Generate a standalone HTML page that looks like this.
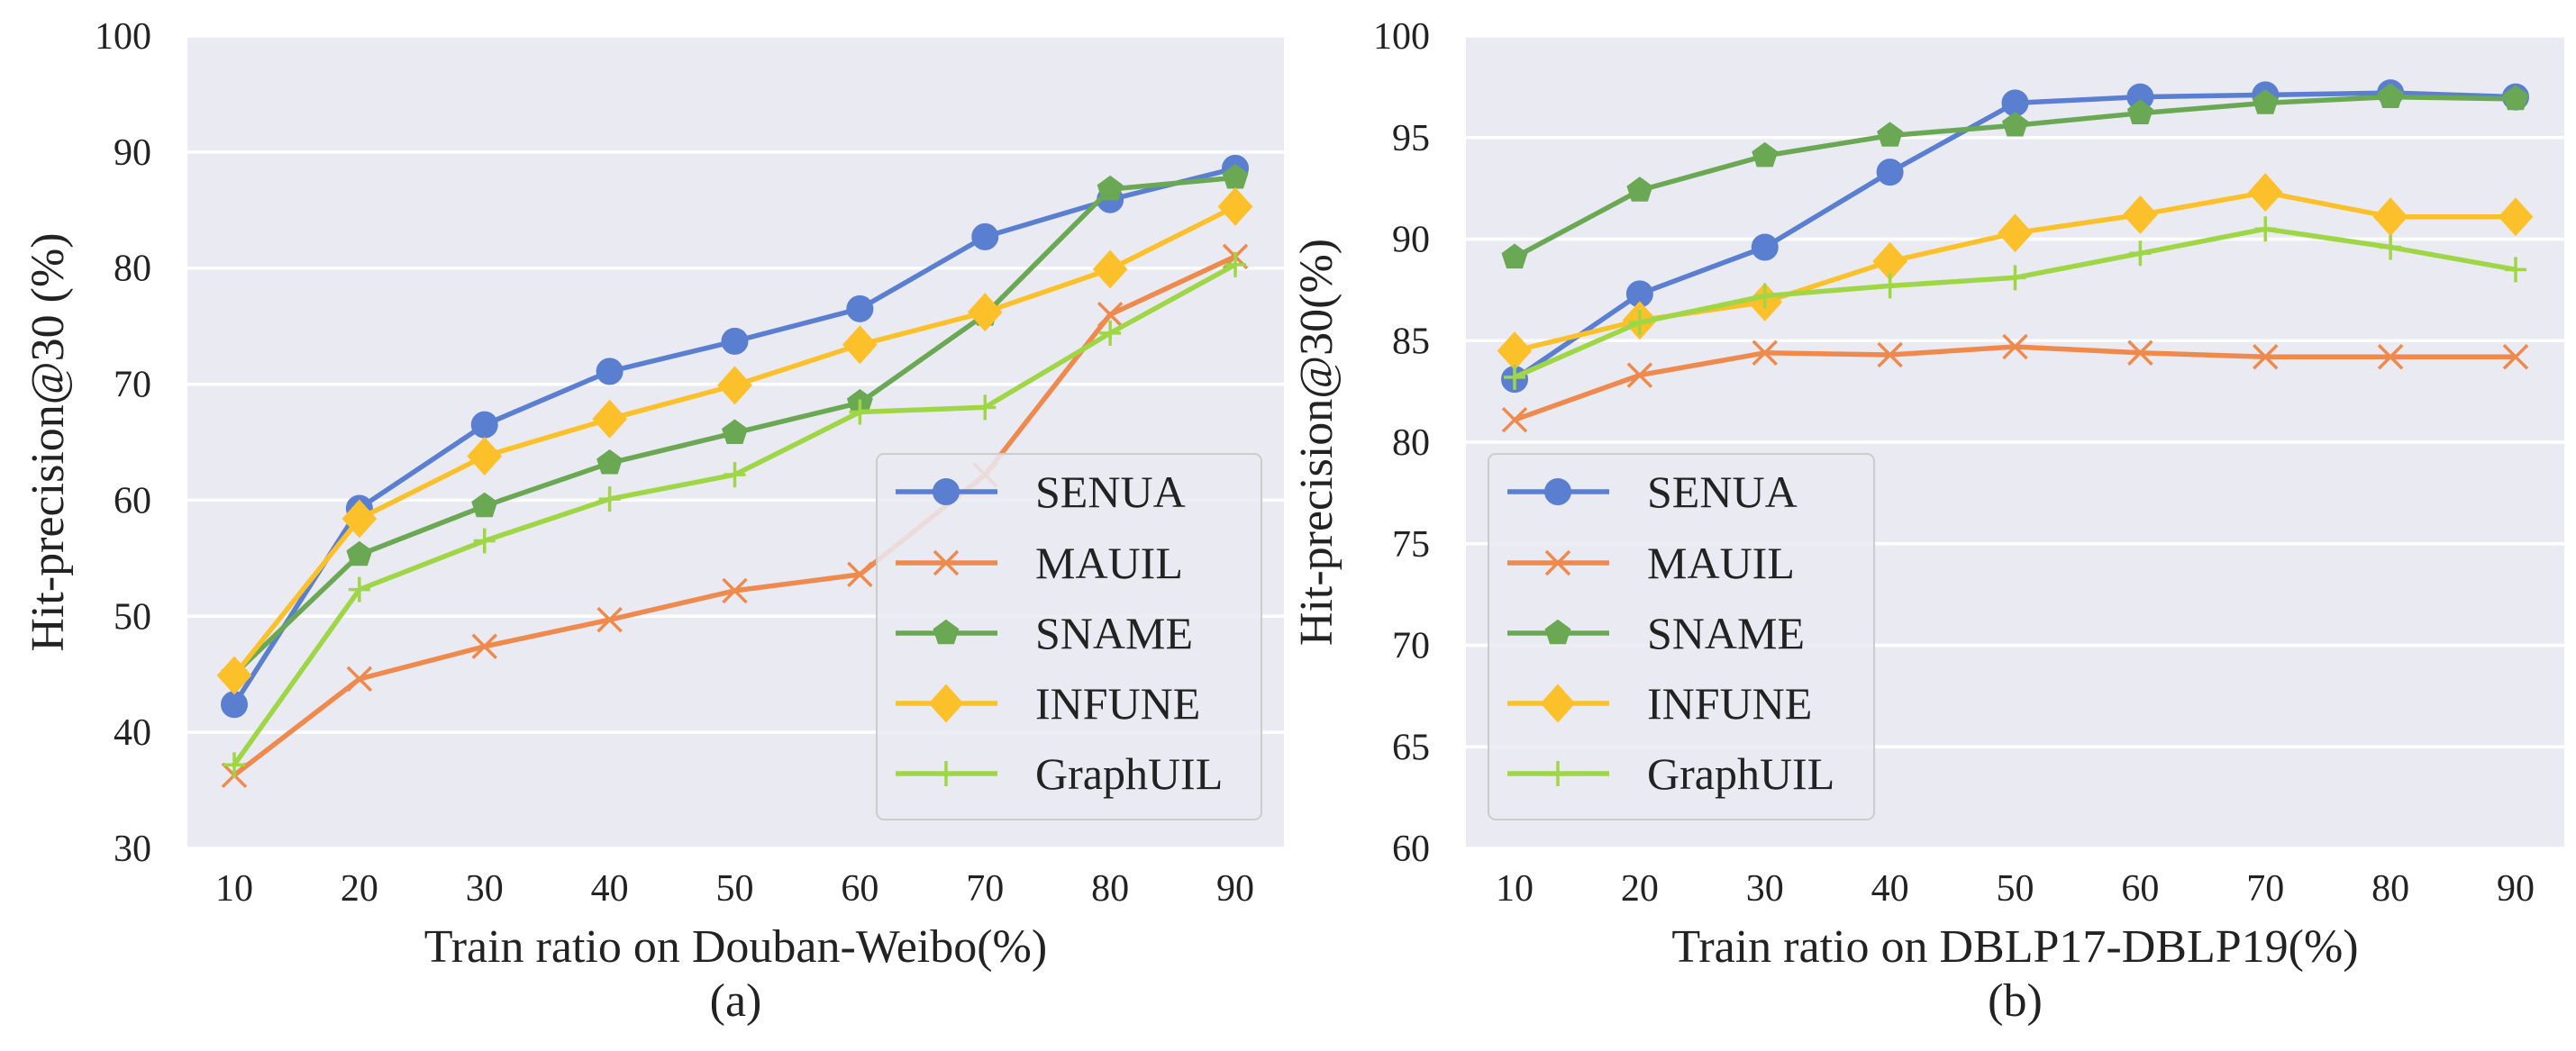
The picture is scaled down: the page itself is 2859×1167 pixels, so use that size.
<!DOCTYPE html>
<html><head><meta charset="utf-8"><style>
html,body{margin:0;padding:0;background:#fff;}
svg text{font-family:"Liberation Serif",serif;fill:#222;}
</style></head><body>
<svg id="fig" width="2859" height="1162" xmlns="http://www.w3.org/2000/svg"></svg>
<script>
const categories = [10,20,30,40,50,60,70,80,90];
const seriesNames = ["SENUA","MAUIL","SNAME","INFUNE","GraphUIL"];
const leftSENUA = [42.4,59.3,66.5,71.1,73.7,76.5,82.7,85.9,88.6];
const leftMAUIL = [36.3,44.6,47.4,49.7,52.2,53.6,62.2,76.0,81.0];
const leftSNAME = [45.0,55.3,59.5,63.2,65.8,68.4,76.0,86.8,87.8];
const leftINFUNE = [44.9,58.4,63.8,67.0,69.9,73.4,76.2,79.9,85.3];
const leftGraphUIL = [37.2,52.3,56.5,60.1,62.2,67.6,68.0,74.4,80.3];
const rightSENUA = [83.1,87.3,89.6,93.3,96.7,97.0,97.1,97.2,97.0];
const rightMAUIL = [81.1,83.3,84.4,84.3,84.7,84.4,84.2,84.2,84.2];
const rightSNAME = [89.1,92.4,94.1,95.1,95.6,96.2,96.7,97.0,96.9];
const rightINFUNE = [84.5,86.0,86.9,88.9,90.3,91.2,92.3,91.1,91.1];
const rightGraphUIL = [83.2,85.9,87.2,87.7,88.1,89.3,90.5,89.6,88.5];
const leftYTicks = [30,40,50,60,70,80,90,100];
const rightYTicks = [60,65,70,75,80,85,90,95,100];

const NS="http://www.w3.org/2000/svg";
const svg=document.getElementById('fig');
const colors=["#5a7fd0","#ee8a4e","#6aa854","#fcc12a","#9fd646"];
const markers=["circle","x","pentagon","diamond","plus"];
function mk(tag,attrs,parent){const e=document.createElementNS(NS,tag);for(const k in attrs)e.setAttribute(k,attrs[k]);(parent||svg).appendChild(e);return e;}
function marker(g,type,x,y,c){
  let m;
  if(type==="circle"){m=mk('circle',{cx:x,cy:y,r:14,fill:c,stroke:c,'stroke-width':2},g);}
  else if(type==="x"){m=mk('path',{d:`M${x-13},${y-13}L${x+13},${y+13}M${x-13},${y+13}L${x+13},${y-13}`,stroke:c,'stroke-width':3.5,fill:'none'},g);}
  else if(type==="pentagon"){let p=[];for(let i=0;i<5;i++){const a=-Math.PI/2+i*2*Math.PI/5;p.push((x+14*Math.cos(a)).toFixed(1)+','+(y+14*Math.sin(a)).toFixed(1));}m=mk('polygon',{points:p.join(' '),fill:c,stroke:c,'stroke-width':2},g);}
  else if(type==="diamond"){m=mk('polygon',{points:`${x},${y-20} ${x+18},${y} ${x},${y+20} ${x-18},${y}`,fill:c,stroke:c,'stroke-width':2},g);}
  else {m=mk('path',{d:`M${x-12},${y}L${x+12},${y}M${x},${y-14}L${x},${y+14}`,stroke:c,'stroke-width':3.5,fill:'none'},g);}
  
  
}
function panel(opt){
  const g=mk('g',{});
  
  
  const {x0,x1,y0,y1,ymin,ymax,xFirst,xLast}=opt;
  const sx=v=>xFirst+(v-10)/(80)*(xLast-xFirst);
  const sy=v=>y1-(v-ymin)/(ymax-ymin)*(y1-y0);
  const bg=mk('rect',{x:x0,y:y0,width:x1-x0,height:y1-y0,fill:'#eaeaf2'},g);
  
  
  opt.yTicks.forEach(t=>{
    const l=mk('line',{x1:x0,x2:x1,y1:sy(t),y2:sy(t),stroke:'#fff','stroke-width':3.5},g);
    
    
    const tx=mk('text',{x:x0-40,y:sy(t)+14,'text-anchor':'end','font-size':42},g);tx.textContent=t;
    
    
  });
  categories.forEach(c=>{
    const tx=mk('text',{x:sx(c),y:1000,'text-anchor':'middle','font-size':42},g);tx.textContent=c;
    
    
  });
  opt.series.forEach((s,i)=>{
    const sg=mk('g',{},g);
    
    
    const pts=s.map((v,j)=>sx(categories[j]).toFixed(1)+','+sy(v).toFixed(1)).join(' ');
    mk('polyline',{points:pts,fill:'none',stroke:colors[i],'stroke-width':5.5,'stroke-linejoin':'round'},sg);
    s.forEach((v,j)=>marker(sg,markers[i],sx(categories[j]),sy(v),colors[i]));
  });
  const lg=mk('g',{},g);
  
  
  mk('rect',{x:opt.lx,y:504,width:opt.lw,height:406,rx:8,fill:'#eaeaf2','fill-opacity':0.85,stroke:'#cccccc','stroke-width':2},lg);
  const ys=[546,625,703,781,859];
  seriesNames.forEach((n,i)=>{
    const eg=mk('g',{},lg);
    
    
    mk('line',{x1:opt.lx+21,x2:opt.lx+134,y1:ys[i],y2:ys[i],stroke:colors[i],'stroke-width':5.5},eg);
    marker(eg,markers[i],opt.lx+77,ys[i],colors[i]);
    const t=mk('text',{x:opt.lx+176,y:ys[i]+17,'font-size':50},eg);t.textContent=n;
  });
  const xl=mk('text',{x:(x0+x1)/2,y:1068,'text-anchor':'middle','font-size':52},g);xl.textContent=opt.xlabel;
  
  
  const cap=mk('text',{x:(x0+x1)/2,y:1128,'text-anchor':'middle','font-size':52},g);cap.textContent=opt.cap;
  
  
  const yl=mk('text',{x:0,y:0,'text-anchor':'middle','font-size':52,transform:`translate(${opt.ylx},${(y0+y1)/2}) rotate(-90)`},g);yl.textContent=opt.ylabel;
  
  
}
panel({name:'chart-douban-weibo',x0:208,x1:1425,y0:40,y1:942,ymin:30,ymax:100,xFirst:260,xLast:1371,yTicks:leftYTicks,
  series:[leftSENUA,leftMAUIL,leftSNAME,leftINFUNE,leftGraphUIL],lx:973,lw:427,
  xlabel:'Train ratio on Douban-Weibo(%)',cap:'(a)',ylabel:'Hit-precision@30 (%)',ylx:70});
panel({name:'chart-dblp',x0:1627,x1:2846,y0:40,y1:942,ymin:60,ymax:100,xFirst:1681,xLast:2792,yTicks:rightYTicks,
  series:[rightSENUA,rightMAUIL,rightSNAME,rightINFUNE,rightGraphUIL],lx:1652,lw:428,
  xlabel:'Train ratio on DBLP17-DBLP19(%)',cap:'(b)',ylabel:'Hit-precision@30(%)',ylx:1478});
</script>
</body></html>
